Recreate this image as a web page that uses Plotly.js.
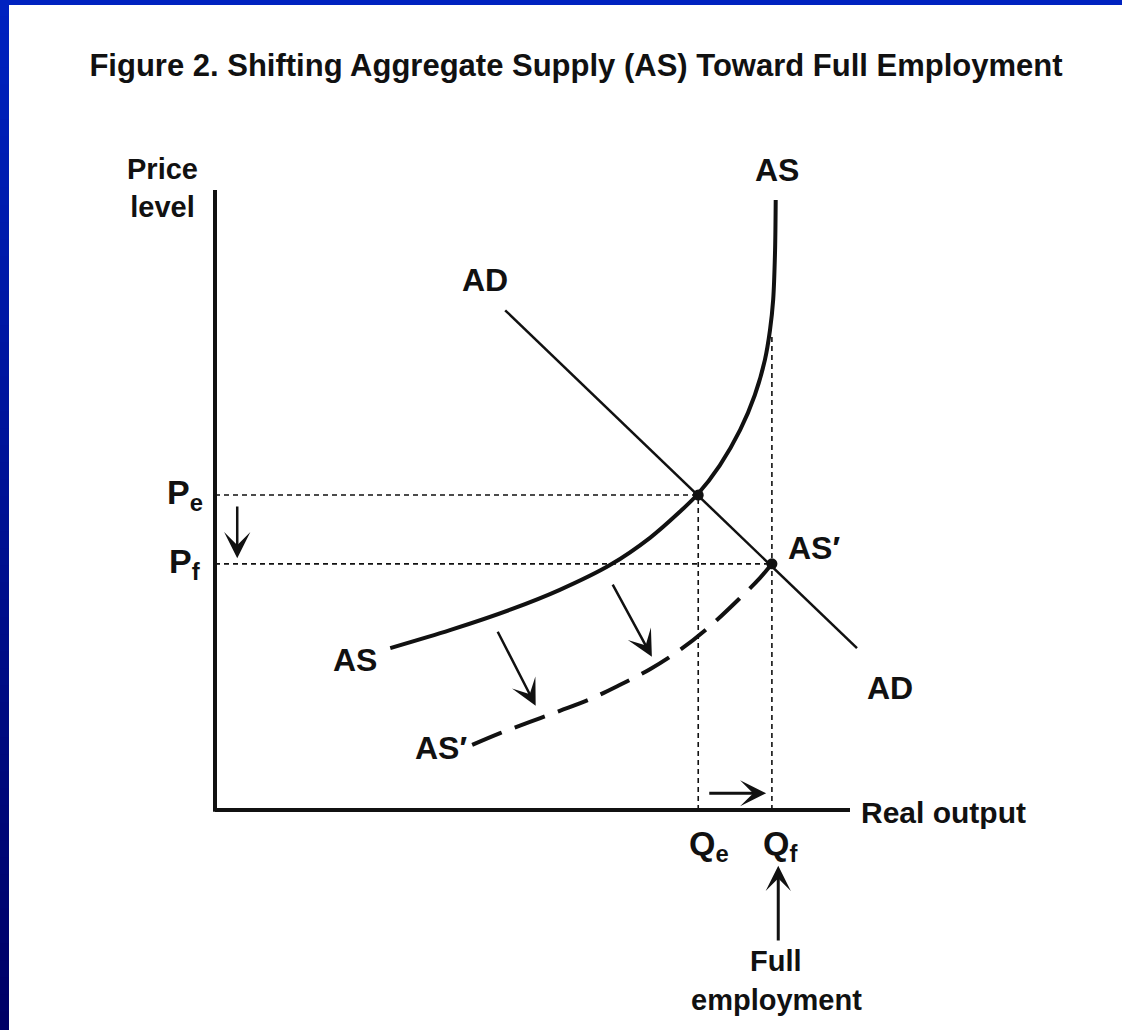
<!DOCTYPE html>
<html>
<head>
<meta charset="utf-8">
<script src="https://cdn.plot.ly/plotly-3.0.1.min.js"></script>
<style>html,body{margin:0;padding:0;background:#fff;}#chart{width:1122px;height:1030px;}</style>
</head>
<body>
<div id="chart"></div>
<script>
// ---- Data (output units on x, price-level units on y; origin at axes corner) ----
const AS_output = [27.6, 37.0, 46.5, 54.3, 62.2, 68.5, 73.2, 75.9, 79.5, 82.7, 85.0, 86.6, 87.4, 87.9, 88.2, 88.3];
const AS_price  = [26.1, 29.0, 32.3, 35.5, 39.5, 43.9, 48.1, 50.8, 55.6, 61.3, 66.9, 72.6, 77.4, 82.3, 90.3, 98.4];

const ASp_output = [40.5, 44.9, 49.6, 54.3, 59.1, 63.8, 68.5, 73.2, 78.0, 82.7, 85.8, 87.7];
const ASp_price  = [10.5, 12.4, 14.2, 16.0, 17.9, 20.2, 22.7, 25.8, 29.7, 34.2, 37.4, 39.7];

const AD_output = [45.7, 101.1];
const AD_price  = [80.6, 26.1];

const Pe = 50.8, Pf = 39.7;     // price levels
const Qe = 76.1, Qf = 87.7;     // output levels
const Qf_guideTop = 76.5;       // where the Qf guide meets AS
const axisMax = [100, 100];     // x-axis end, y-axis end

// arrows: [x_tail, y_tail, x_head, y_head]
const arrowPriceDrop = [3.5, 49.2, 3.5, 40.6];
const arrowShift1    = [44.4, 29.0, 50.5, 16.8];
const arrowShift2    = [62.5, 36.6, 68.8, 24.7];
const arrowOutput    = [77.6, 2.7, 86.8, 2.7];
const arrowFullEmp   = [88.7, -21.3, 88.7, -9.0];

// ---- Layout helpers ----
const W = 1122, H = 1030;
const ox = 215, oy = 810, kx = 6.35, ky = 6.2;
const FONT = 'Liberation Sans, Arial, Helvetica, sans-serif';
const INK = '#111111';

const traces = [
  {x: AS_output, y: AS_price, mode: 'lines', line: {color: INK, width: 4, shape: 'spline', smoothing: 0.8}, hoverinfo: 'skip'},
  {x: ASp_output, y: ASp_price, mode: 'lines', line: {color: INK, width: 4, shape: 'spline', smoothing: 1, dash: '32px,14px'}, hoverinfo: 'skip'},
  {x: AD_output, y: AD_price, mode: 'lines', line: {color: INK, width: 2.5}, hoverinfo: 'skip'},
  {x: [Qe, Qf], y: [Pe, Pf], mode: 'markers', marker: {color: INK, size: 11}, hoverinfo: 'skip'}
];

const shapes = [];
// top border
shapes.push({type: 'rect', xref: 'paper', yref: 'paper', x0: 0, x1: 1, y0: 1 - 5 / H, y1: 1, fillcolor: '#0022c0', line: {width: 0}, layer: 'below'});
// left gradient border
const N = 60;
for (let i = 0; i < N; i++) {
  const t = i / (N - 1);
  const g = Math.round(34 * (1 - t)), b = Math.round(192 + (102 - 192) * t);
  shapes.push({type: 'rect', xref: 'paper', yref: 'paper', x0: 0, x1: 9 / W,
    y0: 1 - (i + 1) / N, y1: 1 - i / N + 0.001, fillcolor: `rgb(0,${g},${b})`, line: {width: 0}, layer: 'below'});
}
// axes
shapes.push({type: 'line', x0: 0, y0: 0, x1: axisMax[0], y1: 0, line: {color: INK, width: 4}});
shapes.push({type: 'line', x0: 0, y0: -0.3, x1: 0, y1: axisMax[1], line: {color: INK, width: 4}});
// guides
const guide = {color: INK, width: 1.6, dash: '5px,4px'};
shapes.push({type: 'line', x0: 0, y0: Pe, x1: Qe, y1: Pe, line: guide});
shapes.push({type: 'line', x0: 0, y0: Pf, x1: Qf, y1: Pf, line: guide});
shapes.push({type: 'line', x0: Qe, y0: 0, x1: Qe, y1: Pe, line: guide});
shapes.push({type: 'line', x0: Qf, y0: 0, x1: Qf, y1: Qf_guideTop, line: guide});

function label(text, x, y, size, extra) {
  return Object.assign({text: text, x: x, y: y, xref: 'x', yref: 'y', showarrow: false,
    font: {family: FONT, size: size, color: INK, weight: 'bold'}, xanchor: 'center', yanchor: 'middle'}, extra || {});
}
function arrow(a, width, head, size) {
  return {x: a[2], y: a[3], ax: a[0], ay: a[1], xref: 'x', yref: 'y', axref: 'x', ayref: 'y',
    text: '', showarrow: true, arrowhead: head, arrowsize: size, arrowwidth: width, arrowcolor: INK, standoff: 0, startstandoff: 0};
}
const px = (p) => (p - ox) / kx;
const py = (p) => (oy - p) / ky;

const annotations = [
  label('Price<br>level', px(162), py(188), 29, {align: 'center'}),
  label('AS', px(777), py(170), 32),
  label('AD', px(485), py(280), 32),
  label('AS', px(355), py(660), 32),
  label('AS′', px(441), py(748), 32),
  label('AS′', px(814), py(548), 32),
  label('AD', px(890), py(688), 32),
  label('Real output', px(859), py(812), 30, {xanchor: 'left'}),
  label('P<sub>e</sub>', px(185), py(494), 34),
  label('P<sub>f</sub>', px(184), py(563), 34),
  label('Q<sub>e</sub>', px(709), py(845), 34),
  label('Q<sub>f</sub>', px(780), py(845), 34),
  label('Full', px(776), py(961), 29),
  label('employment', px(776), py(1000), 29),
  arrow(arrowPriceDrop, 2.5, 3, 1.75),
  arrow(arrowShift1, 2.5, 3, 1.75),
  arrow(arrowShift2, 2.5, 3, 1.75),
  arrow(arrowOutput, 3, 3, 1.45),
  arrow(arrowFullEmp, 3, 3, 1.4)
];

const layout = {
  width: W, height: H,
  margin: {l: 0, r: 0, t: 0, b: 0, pad: 0},
  paper_bgcolor: '#ffffff', plot_bgcolor: '#ffffff',
  showlegend: false,
  title: {text: 'Figure 2. Shifting Aggregate Supply (AS) Toward Full Employment',
    font: {family: FONT, size: 31, color: INK, weight: 'bold'},
    x: 576 / W, xanchor: 'center', xref: 'paper', y: 1 - 65 / H, yanchor: 'middle', yref: 'container'},
  xaxis: {range: [-ox / kx, (W - ox) / kx], visible: false, fixedrange: true},
  yaxis: {range: [-(H - oy) / ky, oy / ky], visible: false, fixedrange: true},
  shapes: shapes,
  annotations: annotations
};

Plotly.newPlot('chart', traces, layout, {displayModeBar: false, staticPlot: true});
</script>
</body>
</html>
